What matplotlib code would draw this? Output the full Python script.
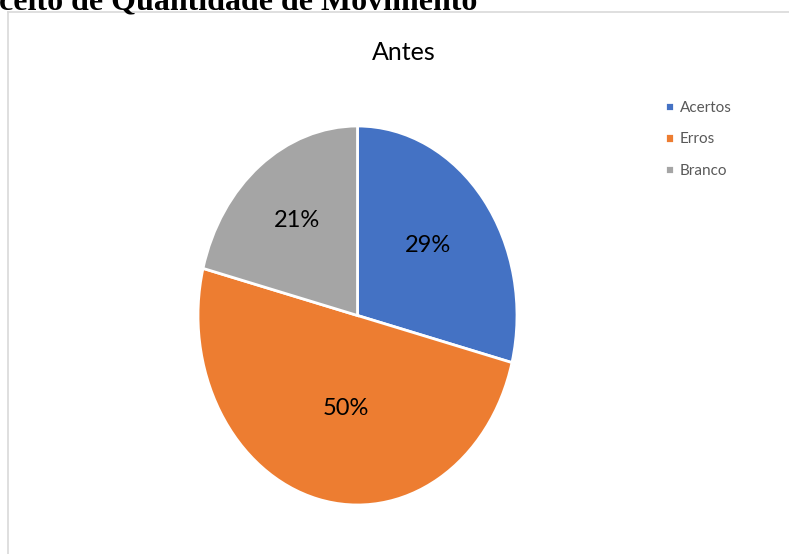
import matplotlib.pyplot as plt
from matplotlib.lines import Line2D

labels = ["Acertos", "Erros", "Branco"]
shares = [29, 50, 21]
colors = ["#4472C4", "#ED7D31", "#A5A5A5"]
title = "Antes"
heading = "ceito de Quantidade de Movimento"

W, H = 789, 554
fig = plt.figure(figsize=(W / 100, H / 100), dpi=100)
fig.patch.set_facecolor("white")

# chart frame (only the top and left borders are in view)
fig.add_artist(Line2D([7.5 / W, 1], [1 - 11.7 / H] * 2, color="#D9D9D9", lw=1.2,
                      transform=fig.transFigure))
fig.add_artist(Line2D([7.5 / W] * 2, [0, 1 - 11.7 / H], color="#D9D9D9", lw=1.2,
                      transform=fig.transFigure))

# heading of the page, cut off at the top
fig.text(-1 / W, 1 - 9 / H, heading, family="Liberation Serif", weight="bold",
         fontsize=23, va="baseline", ha="left", color="black")

# pie is slightly taller than wide
left, right, top, bottom = 198, 517, 126, 505
ax = fig.add_axes([left / W, 1 - bottom / H, (right - left) / W, (bottom - top) / H])
wedges, texts = ax.pie(shares, colors=colors, startangle=90, counterclock=False,
                       radius=1, wedgeprops=dict(edgecolor="white", linewidth=2))
ax.set_aspect("auto")
ax.set_xlim(-1, 1)
ax.set_ylim(-1, 1)

label_pos = [(0.44, 0.37), (-0.07, -0.49), (-0.38, 0.50)]
for s, (x, y) in zip(shares, label_pos):
    ax.text(x, y, f"{s}%", ha="center", va="center", fontsize=17,
            family="Lato", color="black")

fig.text(404 / W, 1 - 53 / H, title, ha="center", va="center", fontsize=18,
         family="Lato", color="black")

fig.legend(wedges, labels, loc="upper left", bbox_to_anchor=(651 / W, 1 - 87 / H),
           frameon=False, prop=dict(family="Lato", size=11), labelcolor="#595959",
           handlelength=0.6, handleheight=0.6, handletextpad=0.4, labelspacing=1.15)

fig.savefig("out.png", dpi=100, facecolor="white")
